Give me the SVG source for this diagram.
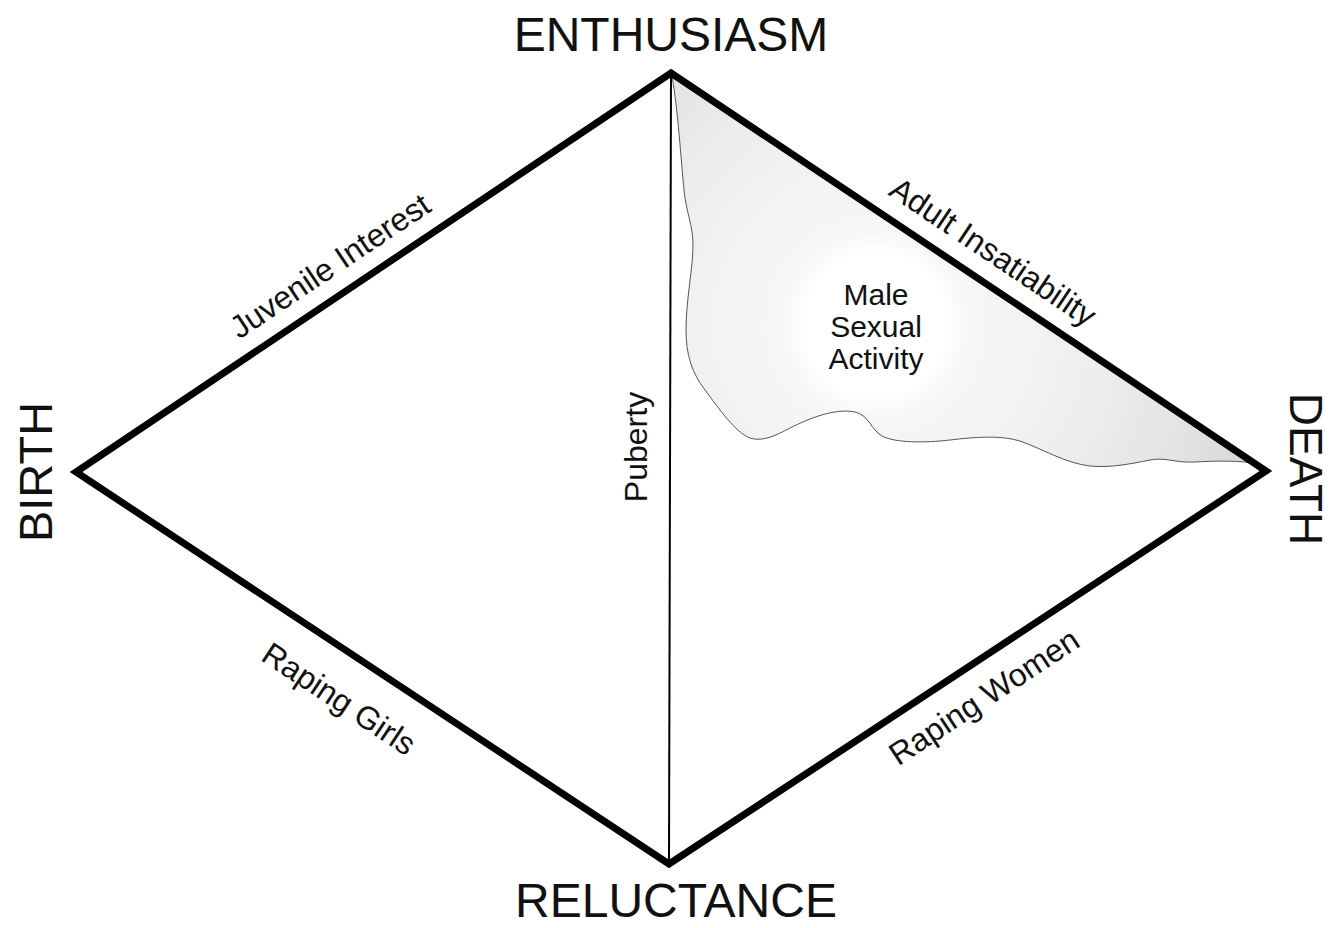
<svg xmlns="http://www.w3.org/2000/svg" width="1343" height="928" viewBox="0 0 1343 928">
  <style>
    text { font-family: "Liberation Sans", Arial, sans-serif; fill: #111; }
    .big { font-size: 47px; }
    .lbl { font-size: 32px; text-anchor: middle; }
    .mid { font-size: 30px; text-anchor: middle; }
    .edge { fill: none; stroke: #000; stroke-width: 7; stroke-linejoin: miter; stroke-linecap: square; }
    .axis { fill: none; stroke: #000; stroke-width: 2; }
  </style>
  <defs>
    <radialGradient id="grad" gradientUnits="userSpaceOnUse" cx="875" cy="325" r="420">
      <stop offset="0" stop-color="#ffffff"/>
      <stop offset="0.17" stop-color="#ffffff"/>
      <stop offset="0.22" stop-color="#f7f7f7"/>
      <stop offset="0.5" stop-color="#efefef"/>
      <stop offset="0.8" stop-color="#e2e2e2"/>
      <stop offset="1" stop-color="#d4d4d4"/>
    </radialGradient>
  </defs>
  <rect width="1343" height="928" fill="#fff"/>

  <g id="region">
    <path d="M 672 76 L 1258 464 C 1240 460 1215 461 1195 462 C 1175 463 1165 457 1150 460 C 1130 464 1110 468 1090 466 C 1065 463 1045 450 1020 441 C 1000 435 975 437 950 440 C 925 443 895 443 882 436 C 870 429 870 416 855 412 C 835 408 810 418 790 428 C 775 436 762 442 750 438 C 735 432 720 410 705 390 C 692 373 686 355 686 330 C 686 300 693 268 693 245 C 693 225 686 212 684 190 C 681 160 678 110 672 76 Z" fill="url(#grad)" stroke="#555" stroke-width="1"/>
    <text class="mid" x="876" y="305">Male</text>
    <text class="mid" x="876" y="337">Sexual</text>
    <text class="mid" x="876" y="369">Activity</text>
  </g>

  <g id="connectors">
    <line class="axis" x1="671" y1="76" x2="669" y2="862"/>
    <polygon class="edge" points="671,73 1266,471 669,864 76,472"/>
  </g>

  <g id="enthusiasm"><text class="big" x="671" y="51" text-anchor="middle" style="font-size:48px">ENTHUSIASM</text></g>
  <g id="reluctance"><text class="big" x="676" y="917" text-anchor="middle" style="font-size:48px">RELUCTANCE</text></g>
  <g id="birth"><text class="big" text-anchor="middle" transform="translate(52,472) rotate(-90)">BIRTH</text></g>
  <g id="death"><text class="big" text-anchor="middle" style="font-size:46px" transform="translate(1290,469) rotate(90)">DEATH</text></g>

  <g id="juvenile"><text class="lbl" transform="translate(336,275) rotate(-33.8)">Juvenile Interest</text></g>
  <g id="adult"><text class="lbl" transform="translate(987,261) rotate(33.8)">Adult Insatiability</text></g>
  <g id="raping-girls"><text class="lbl" transform="translate(333,708) rotate(33.5)">Raping Girls</text></g>
  <g id="raping-women"><text class="lbl" transform="translate(990,706) rotate(-33.4)">Raping Women</text></g>
  <g id="puberty"><text class="lbl" transform="translate(647,447) rotate(-90)">Puberty</text></g>
</svg>
